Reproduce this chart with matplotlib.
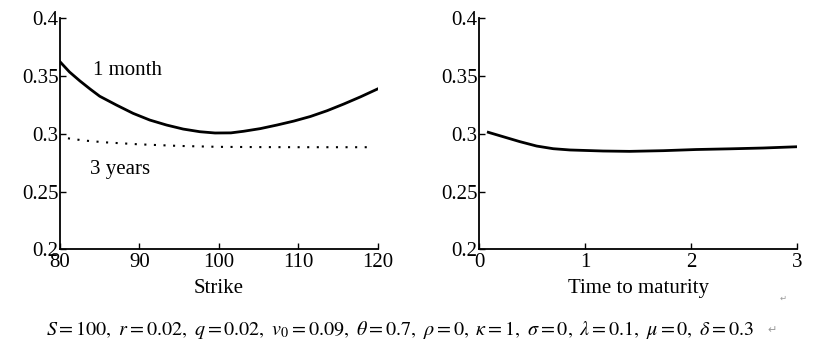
import matplotlib
matplotlib.use("Agg")
import matplotlib.pyplot as plt

plt.rcParams['font.family'] = ['Liberation Serif', 'DejaVu Serif']
plt.rcParams['mathtext.fontset'] = 'stix'

# Left panel: implied vol vs strike
strike_1m = [80, 81.2, 82.5, 83.8, 85.0, 87.1, 89.2, 91.3, 93.4, 95.5, 97.6, 99.5, 101.5, 103.1, 105.2, 107.3, 109.4, 111.5, 113.6, 115.7, 117.8, 120]
vol_1m = [0.3624, 0.3535, 0.3458, 0.3387, 0.3325, 0.3249, 0.3177, 0.3119, 0.3076, 0.3041, 0.3018, 0.3007, 0.3008, 0.3022, 0.3045, 0.3076, 0.3110, 0.3150, 0.3200, 0.3258, 0.3320, 0.3390]
strike_3y = [81, 83, 85.7, 89.9, 95, 100, 105, 110, 115, 119.2]
vol_3y = [0.2961, 0.2942, 0.2926, 0.2909, 0.2895, 0.2887, 0.2885, 0.2884, 0.2884, 0.2884]

# Right panel: implied vol vs time to maturity
ttm = [0.088, 0.386, 0.544, 0.70, 0.858, 1.17, 1.42, 1.74, 2.05, 2.37, 2.68, 3.0]
vol_ttm = [0.3013, 0.2932, 0.2894, 0.2871, 0.2860, 0.2851, 0.2848, 0.2854, 0.2864, 0.2870, 0.2877, 0.2888]

fig = plt.figure(figsize=(8.15, 3.5), dpi=100)
ax1 = fig.add_axes([0.0736, 0.2877, 0.3902, 0.66])
ax2 = fig.add_axes([0.5877, 0.2877, 0.3903, 0.66])

ax1.plot(strike_1m, vol_1m, color='black', lw=2.0, solid_joinstyle='round')
ax1.plot(strike_3y, vol_3y, color='black', lw=1.5, linestyle=(0, (1, 3.6)))
ax1.text(84.1, 0.3552, '1 month', fontsize=15, ha='left', va='center')
ax1.text(83.8, 0.2687, '3 years', fontsize=15, ha='left', va='center')
ax1.set_xlim(80, 120)
ax1.set_xticks([80, 90, 100, 110, 120])
ax1.set_xlabel('Strike', fontsize=15, labelpad=4.5)

ax2.plot(ttm, vol_ttm, color='black', lw=2.0, solid_joinstyle='round')
ax2.set_xlim(0, 3)
ax2.set_xticks([0, 1, 2, 3])
ax2.set_xlabel('Time to maturity', fontsize=15, labelpad=4.5)

for ax in (ax1, ax2):
    ax.set_ylim(0.2, 0.4)
    ax.set_yticks([0.2, 0.25, 0.3, 0.35, 0.4])
    ax.set_yticklabels(['0.2', '0.25', '0.3', '0.35', '0.4'])
    ax.spines['top'].set_visible(False)
    ax.spines['right'].set_visible(False)
    ax.spines['left'].set_linewidth(1.3)
    ax.spines['bottom'].set_linewidth(1.3)
    ax.tick_params(direction='in', length=4, width=1, labelsize=15)
    ax.tick_params(axis='y', pad=1)
    ax.tick_params(axis='x', pad=3)

caption = (r'$S = 100,\ r = 0.02,\ q = 0.02,\ v_0 = 0.09,\ \theta = 0.7,\ \rho = 0,\ '
           r'\kappa = 1,\ \sigma = 0,\ \lambda = 0.1,\ \mu = 0,\ \delta = 0.3$')
fig.text(0.057, 0.057, caption, fontsize=14.5, ha='left', va='center')
fig.text(0.942, 0.057, '\u21b5', fontsize=8, color='#999999', ha='left', va='center',
         family=['DejaVu Sans'])
fig.text(0.957, 0.147, '\u21b5', fontsize=6, color='#999999', ha='left', va='center',
         family=['DejaVu Sans'])

fig.savefig('out.png', dpi=100)
